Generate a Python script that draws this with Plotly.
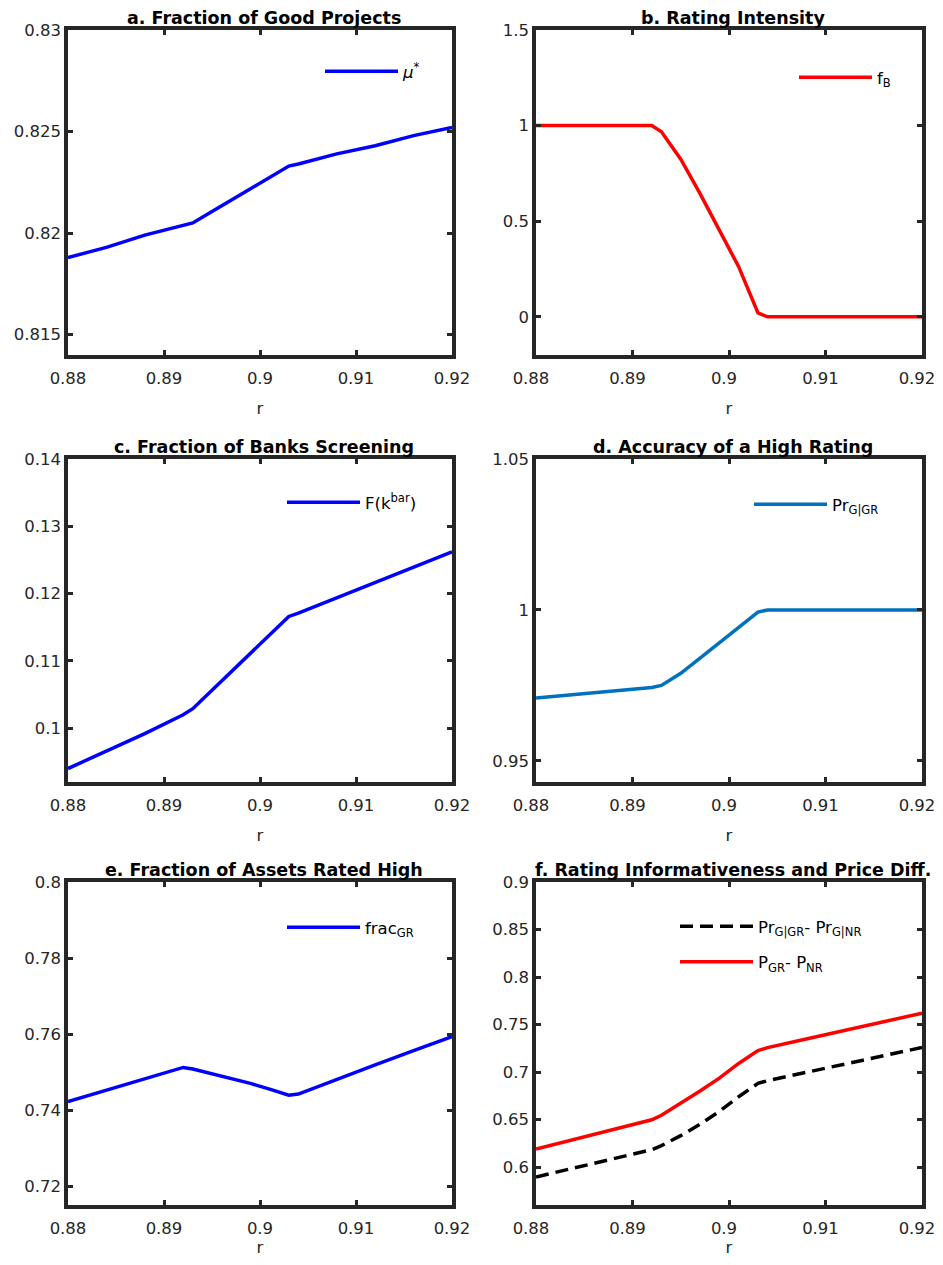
import plotly.graph_objects as go

# ---------------- data ----------------
r = [0.880, 0.884, 0.888, 0.892, 0.893, 0.895, 0.897, 0.899, 0.901, 0.903, 0.904, 0.908, 0.912, 0.916, 0.920]

mu_star = [0.8188, 0.8193, 0.8199, 0.8204, 0.8205, 0.82106, 0.82162, 0.82218, 0.82274, 0.8233, 0.8234, 0.8239, 0.8243, 0.8248, 0.8252]
f_B = [1.0, 1.0, 1.0, 1.0, 0.968, 0.824, 0.644, 0.457, 0.262, 0.020, 0.0, 0.0, 0.0, 0.0, 0.0]
F_kbar = [0.0940, 0.0966, 0.0992, 0.1020, 0.1029, 0.10564, 0.10838, 0.11112, 0.11386, 0.1166, 0.1171, 0.11938, 0.12166, 0.12394, 0.1262]
Pr_G_GR = [0.9708, 0.9720, 0.9731, 0.9743, 0.9750, 0.9790, 0.9840, 0.9890, 0.9941, 0.9993, 1.0, 1.0, 1.0, 1.0, 1.0]
frac_GR = [0.7422, 0.7452, 0.7482, 0.7512, 0.7508, 0.7496, 0.7484, 0.7470, 0.7455, 0.7439, 0.7442, 0.7481, 0.7519, 0.7556, 0.7593]
Pr_diff = [0.5895, 0.5990, 0.6085, 0.6182, 0.6225, 0.6330, 0.6450, 0.6585, 0.6740, 0.6880, 0.6909, 0.6996, 0.7083, 0.7171, 0.7258]
P_diff = [0.6190, 0.6295, 0.6398, 0.6497, 0.6545, 0.6670, 0.6800, 0.6935, 0.7090, 0.7225, 0.7257, 0.7348, 0.7438, 0.7529, 0.7619]

x_ticks = [0.88, 0.89, 0.90, 0.91, 0.92]
x_ticktext = ["0.88", "0.89", "0.9", "0.91", "0.92"]

titles = ["a. Fraction of Good Projects", "b. Rating Intensity",
          "c. Fraction of Banks Screening", "d. Accuracy of a High Rating",
          "e. Fraction of Assets Rated High", "f. Rating Informativeness and Price Diff."]

y_ranges = [[0.814, 0.830], [-0.2, 1.5], [0.092, 0.14], [0.943, 1.05], [0.715, 0.80], [0.56, 0.90]]
y_ticks = [[0.815, 0.82, 0.825, 0.83], [0, 0.5, 1, 1.5], [0.1, 0.11, 0.12, 0.13, 0.14],
           [0.95, 1.0, 1.05], [0.72, 0.74, 0.76, 0.78, 0.80], [0.6, 0.65, 0.7, 0.75, 0.8, 0.85, 0.9]]
y_ticktext = [["0.815", "0.82", "0.825", "0.83"], ["0", "0.5", "1", "1.5"],
              ["0.1", "0.11", "0.12", "0.13", "0.14"], ["0.95", "1", "1.05"],
              ["0.72", "0.74", "0.76", "0.78", "0.8"],
              ["0.6", "0.65", "0.7", "0.75", "0.8", "0.85", "0.9"]]

# ---------------- layout geometry (page has an 8px body margin) ----------------
OFF = 8
W, H = 943 - OFF, 1265 - 2 * OFF
col_px = [(68 - OFF, 452 - OFF), (536 - OFF, 922 - OFF)]
row_px = [(30 - OFF, 355 - OFF), (459 - OFF, 782 - OFF), (882 - OFF, 1205 - OFF)]

AX = "#262626"
FONT = "DejaVu Sans, Liberation Sans, Arial, sans-serif"
FS = 16.5

fig = go.Figure()

series = [
    [(mu_star, "<i>μ</i><sup>*</sup>", "#0000FF", "solid")],
    [(f_B, "f<sub>B</sub>", "#FF0000", "solid")],
    [(F_kbar, "F(k<sup>bar</sup>)", "#0000FF", "solid")],
    [(Pr_G_GR, "Pr<sub>G|GR</sub>", "#0072BD", "solid")],
    [(frac_GR, "frac<sub>GR</sub>", "#0000FF", "solid")],
    [(Pr_diff, "Pr<sub>G|GR</sub>- Pr<sub>G|NR</sub>", "#000000", "13px,7px"),
     (P_diff, "P<sub>GR</sub>- P<sub>NR</sub>", "#FF0000", "solid")],
]

legend_pos = [(312, 46), (786, 52), (274, 477), (741, 479), (274, 902), (667, 901)]

layout = dict(width=W, height=H, margin=dict(l=0, r=0, t=0, b=0, autoexpand=False),
              paper_bgcolor="white", plot_bgcolor="white",
              font=dict(family=FONT, size=FS, color=AX), annotations=[])

for i in range(6):
    row, col = i // 2, i % 2
    n = "" if i == 0 else str(i + 1)
    xa, ya = "x" + n, "y" + n
    lg = "legend" if i == 0 else "legend" + str(i + 1)
    for k, (vals, name, color, dash) in enumerate(series[i]):
        fig.add_trace(go.Scatter(x=r, y=vals, mode="lines", name=name,
                                 line=dict(color=color, width=3.5, dash=dash),
                                 xaxis=xa, yaxis=ya, legend=lg, showlegend=True,
                                 legendgroup="g%d_%d" % (i, k)))
    x0, x1 = col_px[col]
    y0, y1 = row_px[row]
    common = dict(showline=True, linewidth=3.5, linecolor=AX, mirror="allticks",
                  ticks="inside", ticklen=5, tickwidth=2.5, tickcolor=AX,
                  showgrid=False, zeroline=False, automargin=False,
                  tickfont=dict(family=FONT, size=FS, color=AX))
    layout["xaxis" + n] = dict(domain=[x0 / W, x1 / W], anchor=ya, range=[0.88, 0.92],
                               tickvals=x_ticks, ticktext=x_ticktext, ticklabelstandoff=5,
                               ticklabelshift=-5 if col == 1 else 0,
                               ticklabeloverflow="allow",
                               title=dict(text="r", font=dict(family=FONT, size=FS, color=AX),
                                          standoff=17 if row < 2 else 15),
                               **common)
    layout["yaxis" + n] = dict(domain=[1 - y1 / H, 1 - y0 / H], anchor=xa, range=y_ranges[i],
                               tickvals=y_ticks[i], ticktext=y_ticktext[i], **common)
    lx, ly = legend_pos[i]
    layout[lg] = dict(x=lx / W, y=1 - ly / H, xanchor="left", yanchor="top",
                      bgcolor="rgba(0,0,0,0)", borderwidth=0, itemwidth=73,
                      font=dict(family=FONT, size=FS, color="black"),
                      tracegroupgap=11)
    layout["annotations"].append(dict(text="<b>" + titles[i] + "</b>", x=((x0 + x1) / 2 + 4) / W,
                                      y=1 - (y0 - 12) / H, xref="paper", yref="paper",
                                      xanchor="center", yanchor="middle", showarrow=False,
                                      font=dict(family=FONT, size=17.5, color="black")))

fig.update_layout(**layout)
fig.write_html("out.html")
